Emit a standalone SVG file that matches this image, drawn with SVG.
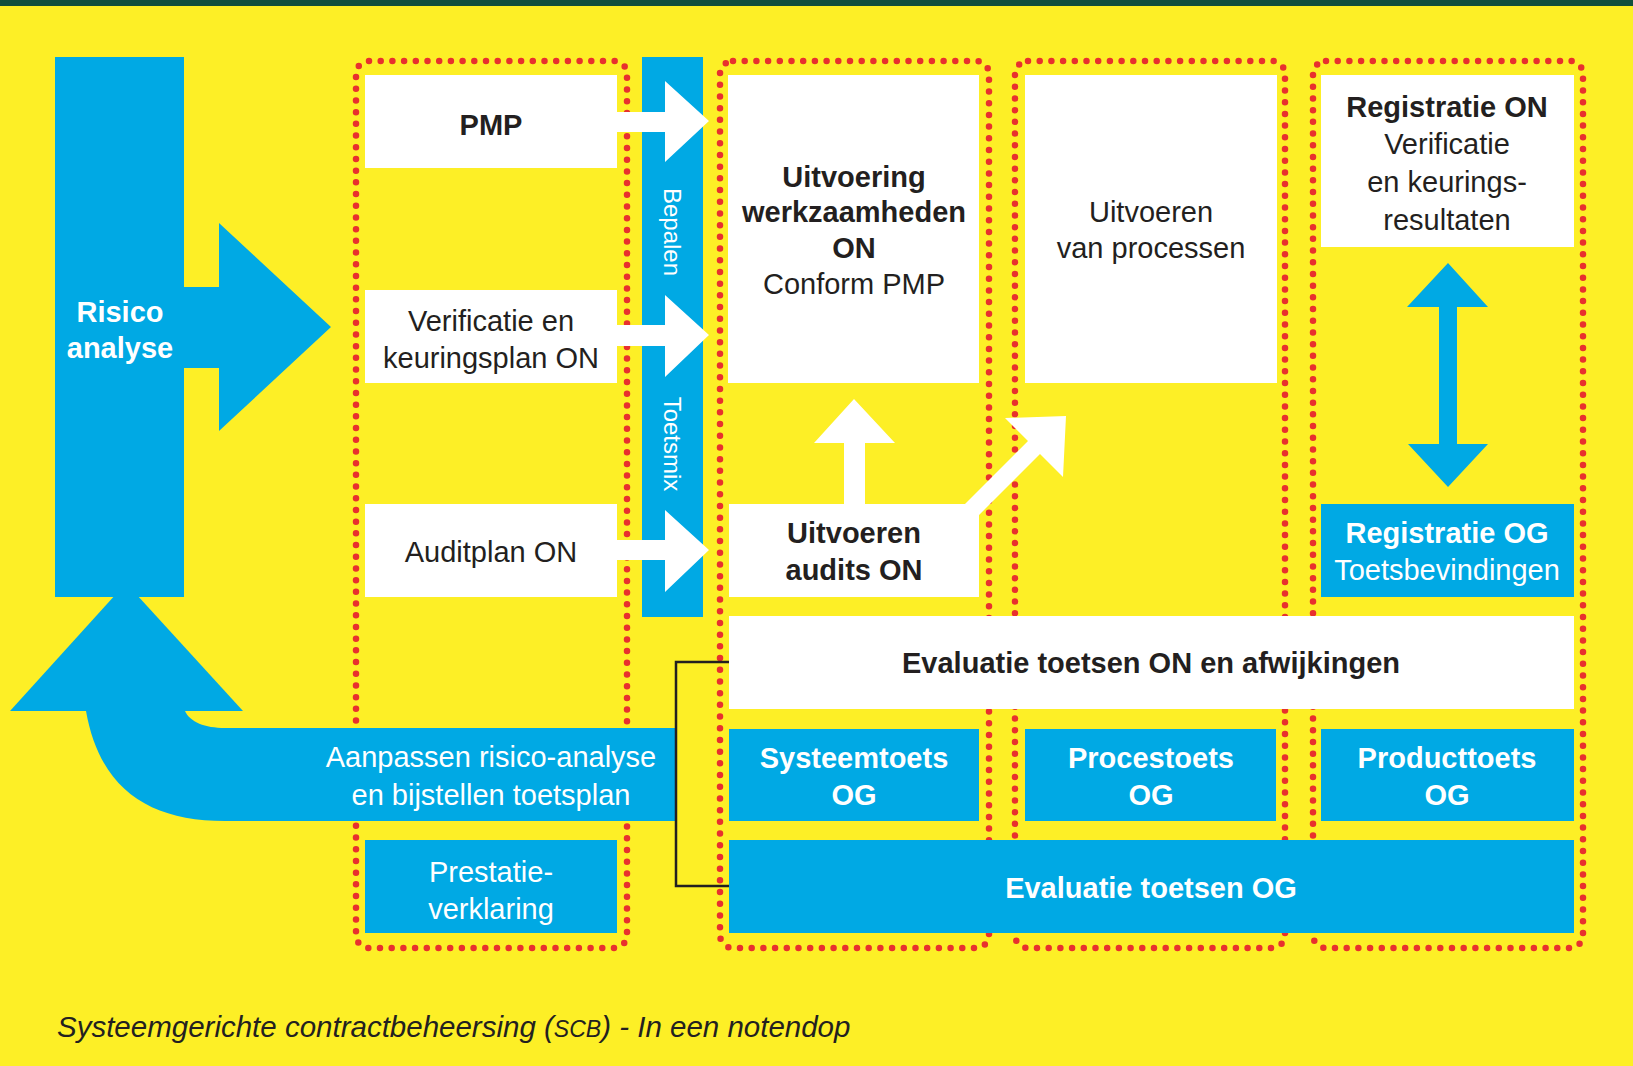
<svg xmlns="http://www.w3.org/2000/svg" width="1633" height="1066" viewBox="0 0 1633 1066">
<style>
.bg{fill:#fdef26}
.blue{fill:#00a9e4}
.white{fill:#ffffff}
.dot{fill:none;stroke:#e8302e;stroke-width:6.5;stroke-linecap:round;stroke-dasharray:0 11.7}
.t{font-family:"Liberation Sans",Arial,sans-serif;font-size:29px;text-anchor:middle}
.b{font-weight:bold}
.w{fill:#ffffff}
.d{fill:#231f20}
.rot{font-family:"Liberation Sans",Arial,sans-serif;font-size:24px;fill:#ffffff;text-anchor:middle;dominant-baseline:central}
.cap{font-family:"Liberation Sans",Arial,sans-serif;font-size:29.5px;font-style:italic;fill:#231f20}
.br{fill:none;stroke:#231f20;stroke-width:2.5}
</style>
<rect class="bg" x="0" y="0" width="1633" height="1066"/>
<rect x="0" y="0" width="1633" height="6" fill="#114f3c"/>

<g id="columns">
<rect class="dot" x="356" y="61" width="271" height="887" rx="13"/>
<rect class="dot" x="720" y="61" width="269" height="887" rx="13"/>
<rect class="dot" x="1015" y="61" width="270" height="887" rx="13"/>
<rect class="dot" x="1313" y="61" width="270" height="887" rx="13"/>
</g>

<g id="risico-analyse">
<rect class="blue" x="55" y="57" width="129" height="540"/>
<polygon class="blue" points="180,287 219,287 219,223 331,327 219,431 219,368 180,368"/>
<text class="t b w" x="120" y="322">Risico</text>
<text class="t b w" x="120" y="358">analyse</text>
</g>

<g id="aanpassen">
<polygon class="blue" points="10,711 243,711 126,583"/>
<path class="blue" d="M86,711 L185,711 C190,722 205,728 225,728 L675,728 L675,821 L225,821 C150,821 100,790 86,711 Z"/>
<text class="t w" x="491" y="767">Aanpassen risico-analyse</text>
<text class="t w" x="491" y="805">en bijstellen toetsplan</text>
</g>

<g id="toetsmix">
<rect class="blue" x="642" y="57" width="61" height="560"/>
<text class="rot" transform="translate(672,232) rotate(90)">Bepalen</text>
<text class="rot" transform="translate(672,444) rotate(90)">Toetsmix</text>
</g>

<g id="pmp">
<rect class="white" x="365" y="75" width="252" height="93"/>
<text class="t b d" x="491" y="135">PMP</text>
</g>
<g id="verificatieplan">
<rect class="white" x="365" y="290" width="252" height="93"/>
<text class="t d" x="491" y="331">Verificatie en</text>
<text class="t d" x="491" y="368">keuringsplan ON</text>
</g>
<g id="auditplan">
<rect class="white" x="365" y="504" width="252" height="93"/>
<text class="t d" x="491" y="562">Auditplan ON</text>
</g>
<g id="prestatieverklaring">
<rect class="blue" x="365" y="840" width="252" height="93"/>
<text class="t w" x="491" y="882">Prestatie-</text>
<text class="t w" x="491" y="919">verklaring</text>
</g>

<g id="uitvoering-werkzaamheden">
<rect class="white" x="728" y="75" width="251" height="308"/>
<text class="t b d" x="854" y="187">Uitvoering</text>
<text class="t b d" x="854" y="222">werkzaamheden</text>
<text class="t b d" x="854" y="258">ON</text>
<text class="t d" x="854" y="294">Conform PMP</text>
</g>
<g id="uitvoeren-processen">
<rect class="white" x="1025" y="75" width="252" height="308"/>
<text class="t d" x="1151" y="222">Uitvoeren</text>
<text class="t d" x="1151" y="258">van processen</text>
</g>
<g id="registratie-on">
<rect class="white" x="1321" y="75" width="253" height="172"/>
<text class="t b d" x="1447" y="117">Registratie ON</text>
<text class="t d" x="1447" y="154">Verificatie</text>
<text class="t d" x="1447" y="192">en keurings-</text>
<text class="t d" x="1447" y="230">resultaten</text>
</g>
<g id="uitvoeren-audits">
<rect class="white" x="729" y="504" width="250" height="93"/>
<text class="t b d" x="854" y="543">Uitvoeren</text>
<text class="t b d" x="854" y="580">audits ON</text>
</g>
<g id="registratie-og">
<rect class="blue" x="1321" y="504" width="253" height="93"/>
<text class="t b w" x="1447" y="543">Registratie OG</text>
<text class="t w" x="1447" y="580">Toetsbevindingen</text>
</g>
<g id="evaluatie-on">
<rect class="white" x="729" y="616" width="845" height="93"/>
<text class="t b d" x="1151" y="673">Evaluatie toetsen ON en afwijkingen</text>
</g>
<g id="systeemtoets">
<rect class="blue" x="729" y="729" width="250" height="92"/>
<text class="t b w" x="854" y="768">Systeemtoets</text>
<text class="t b w" x="854" y="805">OG</text>
</g>
<g id="procestoets">
<rect class="blue" x="1025" y="729" width="251" height="92"/>
<text class="t b w" x="1151" y="768">Procestoets</text>
<text class="t b w" x="1151" y="805">OG</text>
</g>
<g id="producttoets">
<rect class="blue" x="1321" y="729" width="253" height="92"/>
<text class="t b w" x="1447" y="768">Producttoets</text>
<text class="t b w" x="1447" y="805">OG</text>
</g>
<g id="evaluatie-og">
<rect class="blue" x="729" y="840" width="845" height="93"/>
<text class="t b w" x="1151" y="898">Evaluatie toetsen OG</text>
</g>

<g id="connectors">
<polygon class="white" points="615,112 665,112 665,81 709,121 665,162 665,132 615,132"/>
<polygon class="white" points="615,325 665,325 665,295 709,335 665,377 665,346 615,346"/>
<polygon class="white" points="615,540 665,540 665,510 709,550 665,592 665,560 615,560"/>
<polygon class="white" points="844,506 844,443 814,443 854,399 895,443 865,443 865,506"/>
<polygon class="white" points="963,506 1028,441 1005,418 1066,416 1063,477 1040,454 979,515 977,506"/>
<polygon class="blue" points="1439,307 1407,307 1448,263 1488,307 1457,307 1457,444 1488,444 1448,487 1408,444 1439,444"/>
<polyline class="br" points="729,662 676,662 676,886 729,886"/>
</g>

<text class="cap" x="57" y="1037">Systeemgerichte contractbeheersing (<tspan font-size="23">SCB</tspan>) - In een notendop</text>
</svg>
